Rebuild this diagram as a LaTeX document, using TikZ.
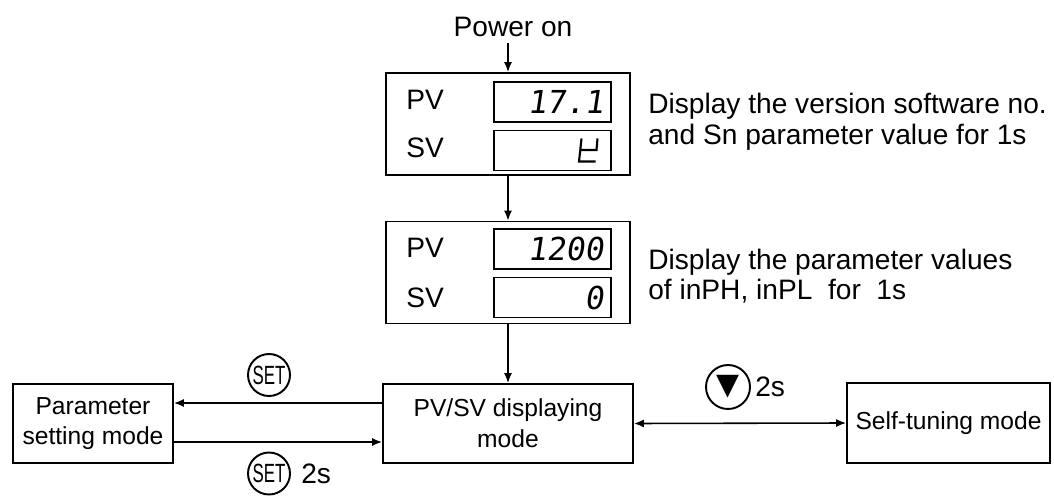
\documentclass[tikz,border=0pt]{standalone}
\usepackage{fontspec}
\setmainfont{Liberation Sans}
\newfontfamily\segfont[FakeSlant=0.15]{DejaVu Sans Mono}
\newfontfamily\keyfont[FakeStretch=0.64]{Liberation Sans}
\newfontfamily\symfont{DejaVu Sans}
\usepackage{tikz}
\usetikzlibrary{arrows.meta,positioning}

\begin{document}
\begin{tikzpicture}[
        >={Latex[length=2mm,width=1.6mm]},
        modebox/.style={
            rectangle, draw=black, line width=1pt, align=center,
            font=\fontsize{14}{17.5}\selectfont, inner sep=0pt
        },
        panelbox/.style={
            rectangle, draw=black, line width=1pt,
            minimum width=4.88cm, minimum height=2.04cm
        },
        segdisplay/.style={
            rectangle, draw=black, line width=1pt, align=right,
            text width=2.04cm, inner xsep=0.15cm, minimum height=0.8cm,
            font=\segfont\fontsize{18}{18}\selectfont
        },
        panellabel/.style={font=\fontsize{16}{16}\selectfont},
        note/.style={anchor=west, align=left, inner xsep=0pt, font=\fontsize{16}{17.5}\selectfont},
        keycircle/.style={circle, draw=black, line width=1.1pt, inner sep=0pt, minimum size=0.84cm},
        keylabel/.style={inner sep=0pt, font=\fontsize{16}{16}\selectfont},
        flow/.style={line width=0.9pt}
    ]
    \useasboundingbox (0,0) rectangle (21.08,9.9);

    \node[panellabel] (power) at (10.26,9.36) {Power on};

    \node[panelbox] (panelA) at (10.16,7.42) {};
    \node[panellabel] (pvA) at (8.5,7.9) {PV};
    \node[panellabel] (svA) at (8.5,6.94) {SV};
    \node[segdisplay] (pvdispA) at (11.05,7.86) {17.1};
    \node[segdisplay] (svdispA) at (11.05,6.89) {};
    \node[note] (noteA) at (12.96,7.47) {Display the version software no.\\and Sn parameter value for 1s};

    \node[panelbox] (panelB) at (10.16,4.45) {};
    \node[panellabel] (pvB) at (8.5,4.94) {PV};
    \node[panellabel] (svB) at (8.5,3.94) {SV};
    \node[segdisplay] (pvdispB) at (11.05,4.92) {1200};
    \node[segdisplay] (svdispB) at (11.05,3.95) {0};
    \node[note] (noteB) at (12.96,4.38) {Display the parameter values\\of inPH, inPL~ for~ 1s};

    \node[modebox, minimum width=3.2cm, minimum height=1.58cm] (param) at (1.86,1.43) {Parameter\\setting mode};
    \node[modebox, minimum width=5cm, minimum height=1.58cm] (pvsv) at (10.16,1.43) {PV/SV displaying\\mode};
    \node[modebox, minimum width=4.06cm, minimum height=1.6cm] (selftune) at (18.97,1.44) {Self-tuning mode};

    \node[keycircle] (setA) at (5.38,2.4) {\keyfont\fontsize{15}{15}\selectfont SET};
    \node[keycircle] (setB) at (5.38,0.43) {\keyfont\fontsize{15}{15}\selectfont SET};
    \node[keylabel, right=0.2cm of setB] (holdB) {2s};
    \node[keycircle, minimum size=0.88cm] (downkey) at (14.56,2.16) {\symfont\fontsize{17}{17}\selectfont ▼};
    \node[keylabel, right=0.08cm of downkey] (holdC) {2s};

    % sv digit of the first panel
    \draw[line width=1.2pt] (11.95,7.13) -- (11.93,6.90) -- (11.61,6.90)
        (11.63,7.13) -- (11.58,6.67) -- (11.91,6.67);

    % flow
    \draw[flow,->] (power.south -| panelA.north) -- (panelA.north);
    \draw[flow,->] (panelA.south) -- (panelB.north);
    \draw[flow,->] (panelB.south) -- (pvsv.north);
    \draw[flow,->] ([yshift=0.41cm]pvsv.west) -- ([yshift=0.41cm]param.east);
    \draw[flow,->] ([yshift=-0.37cm]param.east) -- ([yshift=-0.37cm]pvsv.west);
    \draw[flow,<->] (pvsv.east) -- (selftune.west);

\end{tikzpicture}
\end{document}
